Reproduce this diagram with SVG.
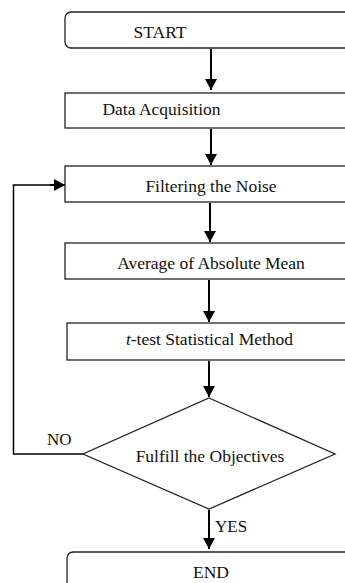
<svg xmlns="http://www.w3.org/2000/svg" width="345" height="583" viewBox="0 0 345 583">
<defs>
<marker id="ah" viewBox="0 0 10 10" refX="10" refY="5" markerWidth="5.5" markerHeight="6" orient="auto" markerUnits="strokeWidth" preserveAspectRatio="none">
<path d="M0,0 L10,5 L0,10 Z" fill="#000"/>
</marker>
<style>
.box{fill:#fff;stroke:#222;stroke-width:1.3}
text{font-family:"Liberation Serif","Times New Roman","DejaVu Serif",serif;fill:#111}
.t{font-size:17.5px;text-anchor:middle}
.l{font-size:17px}
.c{fill:none;stroke:#000;stroke-width:2}
</style>
</defs>
<rect width="345" height="583" fill="#fff"/>
<g id="connectors">
<line class="c" x1="211" y1="49" x2="211" y2="90" marker-end="url(#ah)"/>
<line class="c" x1="211" y1="129" x2="211" y2="165" marker-end="url(#ah)"/>
<line class="c" x1="210" y1="203" x2="210" y2="242" marker-end="url(#ah)"/>
<line class="c" x1="209" y1="280" x2="209" y2="322" marker-end="url(#ah)"/>
<line class="c" x1="209" y1="361" x2="209" y2="397" marker-end="url(#ah)"/>
<line class="c" x1="209" y1="510" x2="209" y2="549" marker-end="url(#ah)"/>
<polyline fill="none" stroke="#000" stroke-width="1.5" points="83,454 13.5,454 13.5,185 55,185"/>
<line class="c" x1="50" y1="185" x2="65" y2="185" marker-end="url(#ah)"/>
<text class="l" x="47" y="445" font-family="Liberation Serif, serif">NO</text>
<text class="l" x="215" y="532" font-family="Liberation Serif, serif">YES</text>
</g>
<g id="start">
<rect class="box" x="65" y="12" width="300" height="36" rx="6"/>
<text class="t" x="160" y="38" font-family="Liberation Serif, serif">START</text>
</g>
<g id="acq">
<rect class="box" x="65" y="93" width="300" height="35"/>
<text class="t" x="161.5" y="115" font-family="Liberation Serif, serif">Data Acquisition</text>
</g>
<g id="filter">
<rect class="box" x="65" y="166" width="300" height="36"/>
<text class="t" x="211" y="192" font-family="Liberation Serif, serif">Filtering the Noise</text>
</g>
<g id="avg">
<rect class="box" x="65" y="243" width="300" height="36"/>
<text class="t" x="211" y="269" font-family="Liberation Serif, serif">Average of Absolute Mean</text>
</g>
<g id="ttest">
<rect class="box" x="67" y="323" width="300" height="37"/>
<text class="t" x="209.5" y="345" font-family="Liberation Serif, serif"><tspan font-style="italic">t</tspan>-test Statistical Method</text>
</g>
<g id="decision">
<polygon class="box" points="209,398 335,454 209,509 83,454"/>
<text class="t" x="210" y="462" font-family="Liberation Serif, serif">Fulfill the Objectives</text>
</g>
<g id="end">
<rect class="box" x="67" y="552" width="300" height="50" rx="6"/>
<text class="t" x="211" y="578" font-family="Liberation Serif, serif">END</text>
</g>
</svg>
